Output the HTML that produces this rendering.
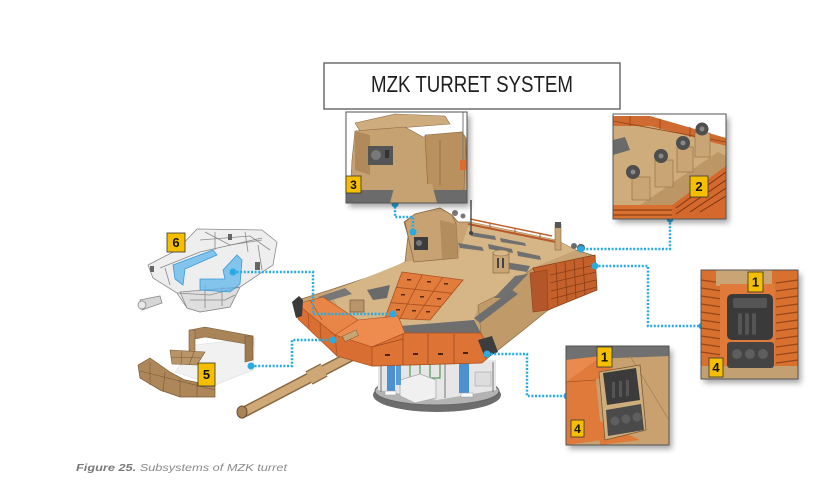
<!DOCTYPE html>
<html><head><meta charset="utf-8"><style>
html,body{margin:0;padding:0;background:#fff;width:833px;height:494px;overflow:hidden}
svg{display:block}
</style></head><body>
<svg width="833" height="494" viewBox="0 0 833 494" xmlns="http://www.w3.org/2000/svg">
<defs>
<filter id="sh" x="-20%" y="-20%" width="150%" height="150%"><feDropShadow dx="3" dy="4" stdDeviation="3" flood-color="#000" flood-opacity="0.35"/></filter>
<clipPath id="c3"><rect x="346" y="112" width="121" height="91"/></clipPath>
<clipPath id="c2"><rect x="613" y="114" width="113" height="105"/></clipPath>
<clipPath id="c1"><rect x="701" y="270" width="97" height="109"/></clipPath>
<clipPath id="c4"><rect x="566" y="346" width="103" height="99"/></clipPath>
</defs>
<rect width="833" height="494" fill="#fff"/>

<!-- Title -->
<rect x="324" y="63" width="296" height="46" fill="#fff" stroke="#6e6e6e" stroke-width="1.5"/>
<text x="371" y="92" font-family="Liberation Sans, sans-serif" font-size="23" fill="#1e1e1e" textLength="202" lengthAdjust="spacingAndGlyphs">MZK TURRET SYSTEM</text>

<!-- Part 6 wireframe -->
<g stroke="#8a8a8a" stroke-width="0.8" fill="#eeeeee">
<polygon points="148,265 177,250 197,229 262,230 277,242 273,265 240,287 230,307 200,312 187,308 177,293 153,278"/>
<polygon fill="#dedede" points="180,292 240,287 230,307 200,312 187,308"/>
<polyline fill="none" points="160,268 200,252 262,238"/>
<polyline fill="none" points="177,293 210,295 240,287"/>
<polyline fill="none" points="190,300 225,300 235,295"/>
<polyline fill="none" points="200,240 250,236 270,250"/>
<polyline fill="none" points="205,232 230,245 262,240"/>
<line x1="215" y1="232" x2="215" y2="250"/><line x1="245" y1="232" x2="248" y2="252"/>
<line x1="205" y1="285" x2="205" y2="308"/><line x1="222" y1="287" x2="222" y2="306"/>
<line x1="258" y1="245" x2="262" y2="270"/><line x1="165" y1="268" x2="170" y2="285"/>
<polygon fill="#d6d6d6" points="140,300 160,296 162,303 142,310"/>
<circle cx="142" cy="305" r="4" fill="#e8e8e8"/>
</g>
<g fill="#666"><rect x="255" y="262" width="5" height="8"/><rect x="228" y="234" width="4" height="6"/><rect x="150" y="266" width="4" height="6"/></g>
<g fill="#5db5ea" fill-opacity="0.75" stroke="#3a9ad8" stroke-width="0.8">
<polygon points="173,265 213,250 217,255 185,269 183,285 175,279"/>
<polygon points="223,270 237,255 242,260 240,284 230,292 200,290 200,279 225,279"/>
</g>
<rect x="167" y="233" width="18" height="19" fill="#f5bf00" stroke="#333" stroke-width="0.8"/>
<text x="176" y="247" text-anchor="middle" font-family="Liberation Sans, sans-serif" font-weight="bold" font-size="13" fill="#111">6</text>

<!-- Part 5 -->
<polygon points="195,345 255,338 253,370 215,385 175,372" fill="#f1f1f1" stroke="#ddd" stroke-width="0.6"/>
<polygon points="190,330 205,327 253,336 253,345 205,337 190,340" fill="#a98458" stroke="#7a5a35" stroke-width="0.6"/>
<polygon points="245,336 253,336 253,360 245,362" fill="#9d7a4f" stroke="#7a5a35" stroke-width="0.6"/>
<polygon points="189,330 195,330 195,355 189,355" fill="#b08b5e" stroke="#7a5a35" stroke-width="0.6"/>
<polygon points="170,350 205,352 197,365 172,364" fill="#b89468" stroke="#7a5a35" stroke-width="0.6"/>
<line x1="182" y1="351" x2="181" y2="364" stroke="#7a5a35" stroke-width="0.6"/>
<line x1="194" y1="352" x2="189" y2="365" stroke="#7a5a35" stroke-width="0.6"/>
<line x1="171" y1="357" x2="201" y2="358" stroke="#7a5a35" stroke-width="0.6"/>
<polygon points="138,365 150,358 170,372 185,380 215,386 215,397 180,397 160,390 140,378" fill="#ad875a" stroke="#7a5a35" stroke-width="0.7"/>
<g stroke="#7a5a35" stroke-width="0.6"><line x1="150" y1="362" x2="150" y2="385"/><line x1="165" y1="372" x2="163" y2="392"/><line x1="180" y1="379" x2="180" y2="397"/><line x1="197" y1="383" x2="197" y2="397"/><line x1="140" y1="371" x2="215" y2="390"/></g>
<rect x="198" y="363" width="17" height="23" fill="#f5bf00" stroke="#333" stroke-width="0.8"/>
<text x="206.5" y="379" text-anchor="middle" font-family="Liberation Sans, sans-serif" font-weight="bold" font-size="13" fill="#111">5</text>

<!-- Turret basket -->
<ellipse cx="437" cy="395" rx="64" ry="17" fill="#6d6d6d"/>
<ellipse cx="437" cy="391" rx="62" ry="14" fill="#b3b3b3" stroke="#666" stroke-width="1"/>
<polygon points="378,362 496,360 496,390 437,400 378,390" fill="#e6e6e6"/>
<g stroke="#777" stroke-width="1"><line x1="381" y1="362" x2="381" y2="392"/><line x1="493" y1="362" x2="493" y2="392"/><line x1="445" y1="363" x2="445" y2="398"/></g>
<g stroke="#3a8a3a" stroke-width="1" fill="none"><rect x="410" y="364" width="30" height="14"/><line x1="420" y1="364" x2="420" y2="378"/><line x1="430" y1="364" x2="430" y2="378"/></g>
<polygon points="400,380 420,374 436,380 436,398 415,403 400,396" fill="#f0f0f0" stroke="#aaa" stroke-width="0.8"/>
<rect x="387" y="363" width="8" height="28" fill="#4b90d0"/>
<rect x="396" y="363" width="5" height="22" fill="#5a9bd6"/>
<rect x="459" y="363" width="10" height="30" fill="#4b90d0"/>
<rect x="385" y="391" width="11" height="4" fill="#fafafa" stroke="#999" stroke-width="0.5"/>
<rect x="461" y="393" width="12" height="4" fill="#fafafa" stroke="#999" stroke-width="0.5"/>
<rect x="475" y="372" width="16" height="14" fill="#ddd" stroke="#999" stroke-width="0.5"/>

<!-- Gun barrel -->
<line x1="357" y1="353" x2="244" y2="412" stroke="#8b6a42" stroke-width="11" stroke-linecap="round"/>
<line x1="357" y1="353" x2="244" y2="412" stroke="#cfaa78" stroke-width="8"/>
<line x1="309" y1="378" x2="324" y2="370" stroke="#8b6a42" stroke-width="15"/>
<line x1="309" y1="378" x2="324" y2="370" stroke="#cda775" stroke-width="12.5"/>
<ellipse cx="242" cy="412" rx="5" ry="6" fill="#a88558" stroke="#6e5030" stroke-width="1"/>

<!-- Turret body -->
<polygon points="298,300 330,290 360,280 385,272 405,262 408,236 404,222 415,214 440,208 452,215 458,222 470,222 556,240 576,250 595,256 595,290 548,310 522,331 498,350 490,356 480,363 372,366 337,356 300,320" fill="#c8a374" stroke="#8e6d45" stroke-width="0.8"/>
<polygon points="330,292 405,262 458,255 470,222 556,240 576,250 533,268 500,294 478,305 474,321 400,327 345,320" fill="#d6b587"/>
<polygon points="478,305 500,294 533,268 548,310 522,331 498,350 490,356 481,333" fill="#c09a68" stroke="#8e6d45" stroke-width="0.6"/>
<polygon points="474,318 512,290 518,294 480,323" fill="#6e6e6e"/>
<polygon points="400,326 474,320 481,333 405,334" fill="#6e6e6e"/>
<polygon points="367,290 390,285 387,298 373,300" fill="#6a6a6a"/>
<polygon points="318,297 345,288 352,294 325,302" fill="#777"/>
<g fill="#707070">
<polygon points="458,243 482,247 484,251 460,248"/>
<polygon points="488,244 512,249 513,253 489,249"/>
<polygon points="517,251 540,256 541,260 518,256"/>
<polygon points="470,232 495,236 496,240 471,236"/>
<polygon points="500,238 525,243 526,246 501,242"/>
<polygon points="505,262 530,266 527,272 503,268"/>
<polygon points="515,276 528,274 505,298 494,298"/>
</g>
<!-- hatch cylinder -->
<rect x="493" y="253" width="16" height="20" fill="#c9a474" stroke="#8e6d45" stroke-width="0.7"/>
<ellipse cx="501" cy="253" rx="8" ry="3" fill="#d8b88a" stroke="#8e6d45" stroke-width="0.6"/>
<rect x="497" y="258" width="2" height="10" fill="#444"/><rect x="502" y="258" width="2" height="10" fill="#444"/>
<rect x="350" y="300" width="14" height="12" fill="#b9946a" stroke="#6a5035" stroke-width="0.6"/>

<!-- rear rails -->
<polyline points="468,224 556,242" fill="none" stroke="#b8582a" stroke-width="2"/>
<polyline points="470,219 552,236" fill="none" stroke="#c0622e" stroke-width="1.5"/>
<g stroke="#b8582a" stroke-width="1"><line x1="490" y1="223" x2="490" y2="229"/><line x1="515" y1="228" x2="515" y2="234"/><line x1="540" y1="233" x2="540" y2="240"/></g>
<!-- stowage -->
<polygon points="533,268 595,255 597,290 548,310" fill="#c4602b" stroke="#8f4018" stroke-width="0.8"/>
<g stroke="#8a3d16" stroke-width="0.8"><line x1="556" y1="264" x2="558" y2="305"/><line x1="565" y1="262" x2="567" y2="301"/><line x1="574" y1="260" x2="576" y2="298"/><line x1="583" y1="258" x2="585" y2="295"/><line x1="550" y1="275" x2="595" y2="265"/><line x1="550" y1="283" x2="596" y2="272"/><line x1="551" y1="291" x2="596" y2="280"/><line x1="551" y1="299" x2="597" y2="287"/></g>
<polygon points="530,273 547,270 548,310 533,312" fill="#b3562a" stroke="#8f4018" stroke-width="0.6"/>
<rect x="555" y="224" width="6" height="26" fill="#c9a474" stroke="#8a6a42" stroke-width="0.6"/>
<rect x="555" y="222" width="6" height="6" fill="#555"/>
<circle cx="581" cy="248" r="4" fill="#5a5a5a"/><circle cx="574" cy="246" r="3" fill="#6a6a6a"/>
<line x1="471" y1="200" x2="471" y2="232" stroke="#555" stroke-width="1.5"/>
<circle cx="471" cy="233" r="2" fill="#444"/>

<!-- commander sight -->
<polygon points="405,222 415,214 440,208 452,215 456,224 458,258 414,262 408,236" fill="#c8a272" stroke="#8e6d45" stroke-width="0.8"/>
<polygon points="440,220 456,224 458,258 442,259" fill="#b38d5d"/>
<rect x="414" y="237" width="14" height="13" fill="#3c3c3c"/>
<circle cx="419" cy="243" r="3" fill="#777"/>
<circle cx="455" cy="213" r="3" fill="#777"/><circle cx="463" cy="216" r="2.5" fill="#777"/>

<!-- orange tiles -->
<polygon points="402,272 463,280 430,320 385,318" fill="#e27c3d" stroke="#a9501f" stroke-width="0.8"/>
<g stroke="#a9501f" stroke-width="0.8"><line x1="422.3" y1="274.7" x2="400" y2="318.7"/><line x1="442.7" y1="277.3" x2="415" y2="319.3"/><line x1="396.3" y1="287.3" x2="452" y2="293.3"/><line x1="390.7" y1="302.7" x2="441" y2="306.7"/></g>
<g fill="#5a2a10"><rect x="407" y="279" width="4" height="1.5"/><rect x="427" y="281" width="4" height="1.5"/><rect x="444" y="283" width="4" height="1.5"/><rect x="401" y="294" width="4" height="1.5"/><rect x="420" y="296" width="4" height="1.5"/><rect x="437" y="298" width="4" height="1.5"/><rect x="396" y="309" width="4" height="1.5"/><rect x="412" y="310" width="4" height="1.5"/><rect x="426" y="311" width="4" height="1.5"/></g>

<!-- left cheek -->
<polygon points="297,304 323,297 358,320 340,333 335,335" fill="#e98647" stroke="#a9501f" stroke-width="0.6"/>
<polygon points="297,304 335,335 337,356 298,319" fill="#d96f33" stroke="#a9501f" stroke-width="0.6"/>
<g stroke="#a9501f" stroke-width="0.7"><line x1="308" y1="313" x2="309" y2="328"/><line x1="320" y1="322" x2="321" y2="339"/><line x1="310" y1="300" x2="322" y2="320"/></g>
<polygon points="292,302 299,296 303,300 302,316 296,318" fill="#3a3a3a"/>
<!-- middle block -->
<polygon points="335,335 358,320 398,316 405,333 372,347" fill="#ee8c50" stroke="#a9501f" stroke-width="0.6"/>
<polygon points="335,335 372,347 372,366 337,356" fill="#d86e32" stroke="#a9501f" stroke-width="0.6"/>
<rect x="343" y="333" width="15" height="6" fill="#c9a474" stroke="#7a5a35" stroke-width="0.5" transform="rotate(-25 350 336)"/>
<!-- front band -->
<polygon points="372,347 405,333 481,333 490,350 490,356 482,363 372,366" fill="#dd7436" stroke="#a9501f" stroke-width="0.7"/>
<g stroke="#a04a1e" stroke-width="0.8"><line x1="403" y1="334" x2="403" y2="365"/><line x1="428" y1="334" x2="428" y2="364"/><line x1="454" y1="334" x2="454" y2="364"/><line x1="372" y1="347" x2="403" y2="339"/></g>
<g fill="#4a2210"><rect x="385" y="354" width="5" height="2"/><rect x="413" y="353" width="5" height="2"/><rect x="438" y="353" width="5" height="2"/><rect x="463" y="352" width="5" height="2"/></g>
<polygon points="478,340 492,336 498,352 485,358" fill="#3d3d3d"/>

<!-- Connectors -->
<g fill="none" stroke="#29abe2" stroke-width="2.5" stroke-dasharray="2 1.6">
<polyline points="395,203 395,217 413,217 413,232"/>
<polyline points="670,219 670,249 581,249"/>
<polyline points="595,266 648,266 648,326 702,326"/>
<polyline points="487,354 527,354 527,396 567,396"/>
<polyline points="233,272 313,272 313,314 393,314"/>
<polyline points="251,366 292,366 292,340 333,340"/>
</g>
<g fill="#29abe2">
<circle cx="395" cy="204" r="3.5"/><circle cx="413" cy="232" r="3.5"/>
<circle cx="670" cy="219" r="3.5"/><circle cx="581" cy="249" r="3.5"/>
<circle cx="595" cy="266" r="3.5"/><circle cx="702" cy="326" r="3.5"/>
<circle cx="487" cy="354" r="3.5"/><circle cx="567" cy="396" r="3.5"/>
<circle cx="233" cy="272" r="3.5"/><circle cx="393" cy="314" r="3.5"/>
<circle cx="251" cy="366" r="3.5"/><circle cx="333" cy="340" r="3.5"/>
</g>

<!-- Box 3 -->
<rect x="346" y="112" width="121" height="91" fill="#fff" filter="url(#sh)"/>
<g clip-path="url(#c3)">
<rect x="346" y="112" width="121" height="91" fill="#fff"/>
<polygon points="355,123 395,114 445,116 450,124 360,131" fill="#cfac7e" stroke="#8e6d45" stroke-width="0.6"/>
<polygon points="355,131 405,127 423,137 462,132 466,140 467,195 440,200 350,197 352,160" fill="#c6a172" stroke="#8e6d45" stroke-width="0.6"/>
<polygon points="425,135 462,132 466,138 464,190 428,192" fill="#b8915f" stroke="#8a6a40" stroke-width="0.6"/>
<polygon points="355,131 370,135 370,175 355,170" fill="#b08a5a"/>
<rect x="368" y="146" width="25" height="19" fill="#555"/>
<circle cx="376" cy="155" r="5" fill="#7a7a7a"/>
<rect x="385" y="150" width="4" height="8" fill="#333"/>
<line x1="440" y1="140" x2="440" y2="185" stroke="#8a6a40" stroke-width="0.8"/>
<rect x="346" y="190" width="121" height="13" fill="#6b6b6b"/>
<polygon points="395,184 432,184 437,203 390,203" fill="#c6a172"/>
<line x1="463" y1="112" x2="463" y2="160" stroke="#777" stroke-width="1"/>
<rect x="460" y="160" width="7" height="10" fill="#d96d30"/>
</g>
<rect x="346" y="112" width="121" height="91" fill="none" stroke="#555" stroke-width="1"/>
<rect x="346" y="176" width="15" height="17" fill="#f5bf00" stroke="#333" stroke-width="0.8"/>
<text x="353.5" y="189" text-anchor="middle" font-family="Liberation Sans, sans-serif" font-weight="bold" font-size="12" fill="#111">3</text>

<!-- Box 2 -->
<rect x="613" y="114" width="113" height="105" fill="#fff" filter="url(#sh)"/>
<g clip-path="url(#c2)">
<rect x="613" y="114" width="113" height="105" fill="#fff"/>
<polygon points="613,126 650,126 726,146 726,219 613,219" fill="#cfac7c"/>
<polygon points="613,116 650,116 726,138 726,146 650,126 613,126" fill="#cf6a30"/>
<g stroke="#8f4018" stroke-width="0.8"><line x1="613" y1="121" x2="726" y2="142"/><line x1="630" y1="116" x2="630" y2="126"/><line x1="660" y1="119" x2="660" y2="129"/><line x1="690" y1="127" x2="690" y2="137"/></g>
<polygon points="613,140 625,137 630,150 613,155" fill="#6a6a6a"/>
<polygon points="640,205 718,152 726,156 726,166 672,205" fill="#bd9666"/>
<polygon points="672,205 726,166 726,219 672,219" fill="#d5692d"/>
<polygon points="613,205 672,205 672,219 613,219" fill="#d8712f"/>
<g stroke="#7a3412" stroke-width="1"><line x1="676" y1="208" x2="726" y2="172"/><line x1="676" y1="214" x2="726" y2="180"/><line x1="690" y1="212" x2="726" y2="188"/><line x1="700" y1="212" x2="726" y2="196"/><line x1="613" y1="210" x2="672" y2="210"/><line x1="613" y1="215" x2="672" y2="215"/></g>
<g fill="#c9a474" stroke="#8e6d45" stroke-width="0.6">
<rect x="632" y="177" width="18" height="23"/><rect x="655" y="160" width="18" height="27"/><rect x="677" y="147" width="16" height="25"/><rect x="695" y="133" width="15" height="24"/>
</g>
<g fill="#4e4e4e"><circle cx="633" cy="172" r="7"/><circle cx="661" cy="156" r="7"/><circle cx="683" cy="143" r="7"/><circle cx="702" cy="129" r="6.5"/></g>
<g fill="#888"><circle cx="633" cy="172" r="2.5"/><circle cx="661" cy="156" r="2.5"/><circle cx="683" cy="143" r="2.5"/><circle cx="702" cy="129" r="2.5"/></g>
</g>
<rect x="613" y="114" width="113" height="105" fill="none" stroke="#555" stroke-width="1"/>
<rect x="690" y="176" width="18" height="21" fill="#f5bf00" stroke="#333" stroke-width="0.8"/>
<text x="699" y="191" text-anchor="middle" font-family="Liberation Sans, sans-serif" font-weight="bold" font-size="13" fill="#111">2</text>

<!-- Box 1/4 right -->
<rect x="701" y="270" width="97" height="109" fill="#fff" filter="url(#sh)"/>
<g clip-path="url(#c1)">
<rect x="701" y="270" width="97" height="109" fill="#d8712f"/>
<g stroke="#9a4419" stroke-width="1.2"><line x1="701" y1="280" x2="722" y2="283"/><line x1="701" y1="288" x2="722" y2="291"/><line x1="701" y1="296" x2="722" y2="299"/><line x1="701" y1="304" x2="722" y2="307"/><line x1="701" y1="312" x2="722" y2="315"/><line x1="701" y1="320" x2="722" y2="323"/><line x1="701" y1="328" x2="722" y2="331"/><line x1="701" y1="336" x2="722" y2="339"/><line x1="701" y1="344" x2="722" y2="347"/><line x1="701" y1="352" x2="722" y2="355"/>
<line x1="776" y1="283" x2="798" y2="280"/><line x1="776" y1="291" x2="798" y2="288"/><line x1="776" y1="299" x2="798" y2="296"/><line x1="776" y1="307" x2="798" y2="304"/><line x1="776" y1="315" x2="798" y2="312"/><line x1="776" y1="323" x2="798" y2="320"/><line x1="776" y1="331" x2="798" y2="328"/><line x1="776" y1="339" x2="798" y2="336"/><line x1="776" y1="347" x2="798" y2="344"/><line x1="776" y1="355" x2="798" y2="352"/><line x1="776" y1="363" x2="798" y2="360"/></g>
<rect x="716" y="270" width="56" height="16" fill="#c9a474"/>
<rect x="720" y="284" width="55" height="82" fill="#e07a3b"/>
<rect x="701" y="366" width="97" height="13" fill="#c2a072"/>
<rect x="727" y="294" width="46" height="46" rx="5" fill="#3a3a3a"/>
<rect x="733" y="298" width="34" height="10" rx="2" fill="#555"/>
<g fill="#555"><rect x="738" y="313" width="4" height="22" rx="2"/><rect x="745" y="313" width="4" height="22" rx="2"/><rect x="752" y="313" width="4" height="22" rx="2"/></g>
<rect x="727" y="342" width="47" height="26" rx="3" fill="#444"/>
<g fill="#5e5e5e"><circle cx="737" cy="354" r="5"/><circle cx="750" cy="354" r="5"/><circle cx="763" cy="354" r="5"/></g>
</g>
<rect x="701" y="270" width="97" height="109" fill="none" stroke="#555" stroke-width="1"/>
<rect x="748" y="272" width="15" height="20" fill="#f5bf00" stroke="#333" stroke-width="0.8"/>
<text x="755.5" y="286.5" text-anchor="middle" font-family="Liberation Sans, sans-serif" font-weight="bold" font-size="13" fill="#111">1</text>
<rect x="709" y="358" width="14" height="19" fill="#f5bf00" stroke="#333" stroke-width="0.8"/>
<text x="716" y="372" text-anchor="middle" font-family="Liberation Sans, sans-serif" font-weight="bold" font-size="13" fill="#111">4</text>

<!-- Box bottom -->
<rect x="566" y="346" width="103" height="99" fill="#fff" filter="url(#sh)"/>
<g clip-path="url(#c4)">
<rect x="566" y="346" width="103" height="99" fill="#c9a070"/>
<polygon points="566,346 669,346 669,356 566,360" fill="#707070"/>
<polygon points="566,360 602,356 612,370 596,380 602,440 566,445" fill="#e07a3b"/>
<polygon points="566,360 602,356 566,382" fill="#ea8a4c"/>
<polygon points="598,420 640,440 600,445" fill="#e07a3b"/>
<line x1="566" y1="382" x2="596" y2="380" stroke="#a9501f" stroke-width="0.7"/>
<line x1="630" y1="356" x2="669" y2="420" stroke="#a88258" stroke-width="0.8"/>
<polygon points="599,372 640,365 646,430 605,440" fill="#cfae7e" stroke="#7a5a35" stroke-width="0.8"/>
<polygon points="603,373 636,368 640,400 607,405" fill="#3b3b3b"/>
<g fill="#555"><rect x="612" y="382" width="3" height="16"/><rect x="619" y="381" width="3" height="16"/><rect x="626" y="380" width="3" height="16"/></g>
<polygon points="606,410 641,404 644,430 608,436" fill="#4a4a4a"/>
<g fill="#5e5e5e"><circle cx="615" cy="421" r="4.5"/><circle cx="626" cy="419" r="4.5"/><circle cx="637" cy="417" r="4.5"/></g>
</g>
<rect x="566" y="346" width="103" height="99" fill="none" stroke="#555" stroke-width="1"/>
<rect x="597" y="347" width="15" height="20" fill="#f5bf00" stroke="#333" stroke-width="0.8"/>
<text x="604.5" y="361.5" text-anchor="middle" font-family="Liberation Sans, sans-serif" font-weight="bold" font-size="13" fill="#111">1</text>
<rect x="571" y="420" width="13" height="17" fill="#f5bf00" stroke="#333" stroke-width="0.8"/>
<text x="577.5" y="433" text-anchor="middle" font-family="Liberation Sans, sans-serif" font-weight="bold" font-size="12" fill="#111">4</text>

<!-- Caption -->
<text x="76" y="471" font-family="Liberation Sans, sans-serif" font-size="10.5" font-style="italic" fill="#8a8a8a" textLength="211" lengthAdjust="spacingAndGlyphs"><tspan font-weight="bold" fill="#7a7a7a">Figure 25.</tspan> Subsystems of MZK turret</text>
</svg>
</body></html>
